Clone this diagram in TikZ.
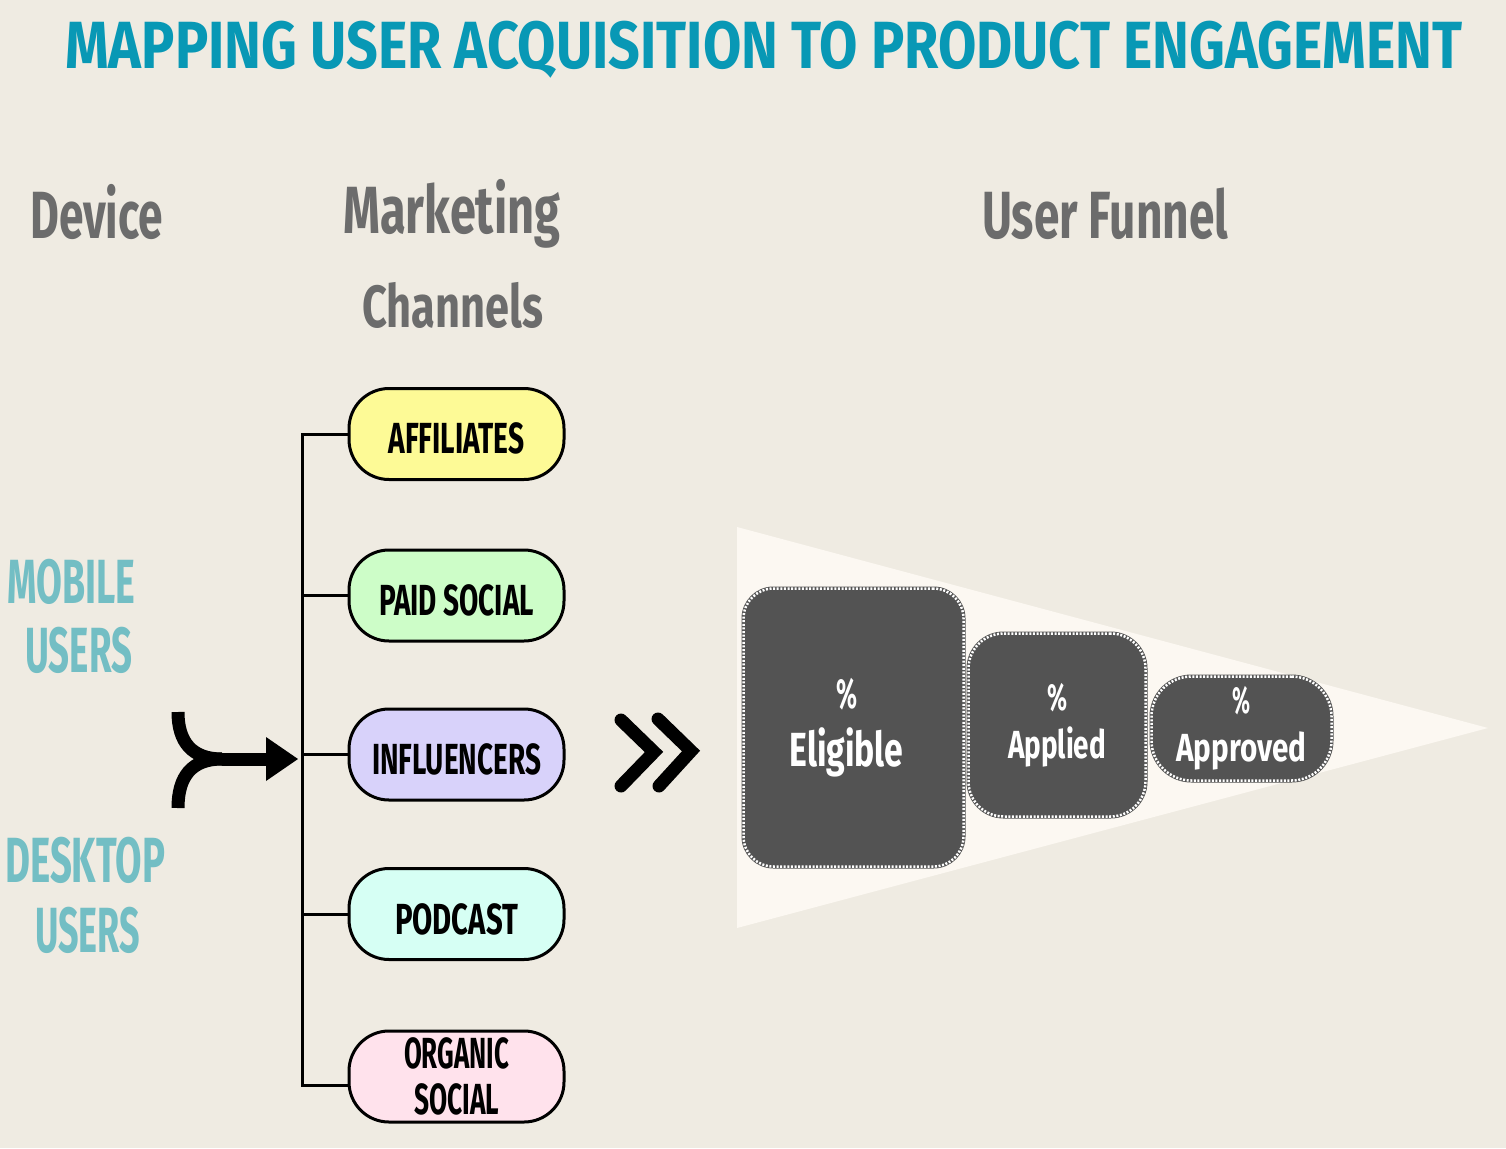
\documentclass[tikz,border=0pt]{standalone}
\usepackage{fontspec}
\setmainfont{Fira Sans}
\usepackage{graphicx}
\definecolor{bgc}{RGB}{239,235,226}
\definecolor{funnelc}{RGB}{252,248,242}
\definecolor{titlec}{RGB}{8,152,181}
\definecolor{headc}{RGB}{108,108,108}
\definecolor{devc}{RGB}{115,190,196}
\definecolor{dgray}{RGB}{83,83,83}
\definecolor{affc}{RGB}{253,250,150}
\definecolor{paidc}{RGB}{205,253,200}
\definecolor{inflc}{RGB}{216,210,250}
\definecolor{podc}{RGB}{214,255,244}
\definecolor{orgc}{RGB}{255,226,236}
% fit text: width, cap height, text
\newcommand{\fitc}[3]{{\fontsize{\the\dimexpr #2pt*1451/1000\relax}{\the\dimexpr #2pt*1451/1000\relax}\selectfont\resizebox{#1pt}{\height}{#3}}}
\begin{document}
\begin{tikzpicture}[x=1pt,y=-1pt,
  lbl/.style={inner sep=0pt, anchor=base west},
  head/.style={lbl, text=headc, font=\bfseries},
  dev/.style={lbl, text=devc, font=\bfseries},
  chan/.style={draw=black, line width=3pt, rounded corners=40pt, minimum width=215pt, minimum height=91pt, inner sep=0pt, font=\bfseries, text=black},
  conn/.style={draw=black, line width=3pt, line cap=rect},
  fbox/.style={fill=dgray, draw=dgray, line width=4pt, inner sep=0pt, text=white, font=\bfseries, align=center,
     postaction={draw=white, line width=2.5pt, dash pattern=on 2pt off 1.6pt}},
  thick arrow/.style={draw=black, line width=13pt}
]
\fill[bgc] (0,0) rectangle (1506,1148);
\useasboundingbox (0,0) rectangle (1506,1148);

% title and headings
\node[lbl, text=titlec, font=\bfseries] (title) at (65,69) {\fitc{1397}{46}{MAPPING USER ACQUISITION TO PRODUCT ENGAGEMENT}};
\node[head] (device) at (30,238) {\fitc{133}{46}{Device}};
\node[head] (mkt) at (343,233) {\fitc{217}{46}{Marketing}};
\node[head] (chn) at (362,327) {\fitc{181}{41}{Channels}};
\node[head] (uf) at (982,238) {\fitc{246}{46}{User Funnel}};

% devices
\node[dev] (mob1) at (7,603) {\fitc{128}{43}{MOBILE}};
\node[dev] (mob2) at (25,672) {\fitc{107}{44}{USERS}};
\node[dev] (desk1) at (5,882) {\fitc{160}{44}{DESKTOP}};
\node[dev] (desk2) at (35,952) {\fitc{105}{44}{USERS}};

% funnel
\fill[funnelc] (737,527) -- (1488,728) -- (737,928) -- cycle;

% channel boxes
\node[chan, fill=affc] (aff) at (456.5,434) {\raisebox{-4pt}[\height][\depth]{\fitc{136}{30}{AFFILIATES}}};
\node[chan, fill=paidc] (paid) at (456.5,595.5) {\raisebox{-5pt}[\height][\depth]{\fitc{155}{30}{PAID SOCIAL}}};
\node[chan, fill=inflc] (infl) at (456.5,754.5) {\raisebox{-5pt}[\height][\depth]{\fitc{169}{30}{INFLUENCERS}}};
\node[chan, fill=podc] (pod) at (456.5,914) {\raisebox{-5pt}[\height][\depth]{\fitc{123}{30}{PODCAST}}};
\node[chan, fill=orgc, align=center, font=\bfseries\fontsize{30}{46}\selectfont] (org) at (456.5,1076.5) {\fitc{105}{30}{ORGANIC}\\\fitc{85}{30}{SOCIAL}};

% bracket connectors
\coordinate (bt) at (302,434);
\coordinate (bb) at (302,1085);
\draw[conn] (bt) -- (bb);
\draw[conn] (aff.west) -- (aff.west -| bt);
\draw[conn] (paid.west) -- (paid.west -| bt);
\draw[conn] (infl.west) -- (infl.west -| bt);
\draw[conn] (pod.west) -- (pod.west -| bt);
\draw[conn] ([yshift=-8.5pt]org.west) -- (bb);

% merge arrow
\coordinate (mj) at (222,759);
\coordinate (mtip) at (298,759);
\draw[thick arrow] (178,712) .. controls (178,742) and (192,759) .. (mj);
\draw[thick arrow] (178,808) .. controls (178,776) and (192,759) .. (mj);
\draw[thick arrow] (mj) -- (268,759);
\fill[black] (266,737) -- (mtip) -- (266,781) -- cycle;

% double chevron
\draw[thick arrow, line cap=round, line join=miter] (621,720) -- (654,752) -- (621,786);
\draw[thick arrow, line cap=round, line join=miter] (658,719) -- (691,751) -- (659,786);

% funnel boxes
\node[fbox, rounded corners=30pt, minimum width=220pt, minimum height=278pt, font=\bfseries\fontsize{30}{58}\selectfont] (elig) at (853.5,727.5)
  {\hbox{\fitc{21}{29}{\%}\kern14pt}\\\hbox{\fitc{114}{33}{Eligible}\kern14pt}};
\node[fbox, rounded corners=35pt, minimum width=177pt, minimum height=183pt, font=\bfseries\fontsize{27}{48}\selectfont] (appl) at (1057,725)
  {\fitc{20}{26}{\%}\\\fitc{98}{27}{Applied}};
\node[fbox, rounded corners=40pt, minimum width=180pt, minimum height=104pt, font=\bfseries\fontsize{27}{48}\selectfont] (appr) at (1241.5,728.5)
  {\fitc{18}{26}{\%}\\\fitc{130}{27}{Approved}};
\end{tikzpicture}
\end{document}
